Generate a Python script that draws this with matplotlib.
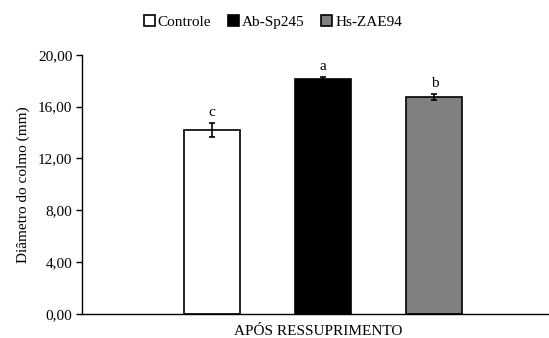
import matplotlib
matplotlib.use("Agg")
import matplotlib.pyplot as plt
from matplotlib.ticker import FuncFormatter

plt.rcParams['font.family'] = ['Liberation Serif', 'DejaVu Serif']

series = ["Controle", "Ab-Sp245", "Hs-ZAE94"]
values = [14.2, 18.15, 16.75]
errors = [0.55, 0.12, 0.22]
letters = ["c", "a", "b"]
colors = ["#ffffff", "#000000", "#808080"]
group_label = "APÓS RESSUPRIMENTO"
yticks = [0, 4, 8, 12, 16, 20]

fig = plt.figure(figsize=(5.49, 3.38), dpi=100)
ax = fig.add_axes([0.1494, 0.071, 0.8506, 0.767])

offsets = [-1, 0, 1]
width = 0.505
handles = []
for off, s, v, e, l, c in zip(offsets, series, values, errors, letters, colors):
    b = ax.bar(off, v, width=width, color=c, edgecolor="black", linewidth=1.2,
               label=s, zorder=2)
    handles.append(b)
    ax.errorbar(off, v, yerr=e, fmt="none", ecolor="black", elinewidth=1.2,
                capsize=2.5, capthick=1.2, zorder=3)
    ax.annotate(l, (off, v + e), xytext=(0, 3), textcoords="offset points",
                ha="center", va="bottom", fontsize=11)

ax.set_xlim(-2.167, 2.03)
ax.set_ylim(0, 20)
ax.set_yticks(yticks)
ax.yaxis.set_major_formatter(FuncFormatter(lambda v, p: f"{v:.2f}".replace(".", ",")))
ax.set_xticks([-0.04])
ax.set_xticklabels([group_label])
ax.tick_params(axis="x", length=0, labelsize=11, pad=8)
ax.tick_params(axis="y", direction="out", length=4, width=1, labelsize=11, pad=3)
ax.spines["top"].set_visible(False)
ax.spines["right"].set_visible(False)
ax.spines["left"].set_linewidth(1)
ax.spines["bottom"].set_linewidth(1)
ax.set_ylabel("Diâmetro do colmo (mm)", fontsize=11, labelpad=6)

fig.legend(handles=handles, labels=series, loc="center", bbox_to_anchor=(273/549, 1-22/338),
           ncol=3, frameon=False, fontsize=11, handlelength=0.7, handleheight=0.7,
           handletextpad=0.2, columnspacing=1.1)

fig.savefig("out.png", dpi=100)
